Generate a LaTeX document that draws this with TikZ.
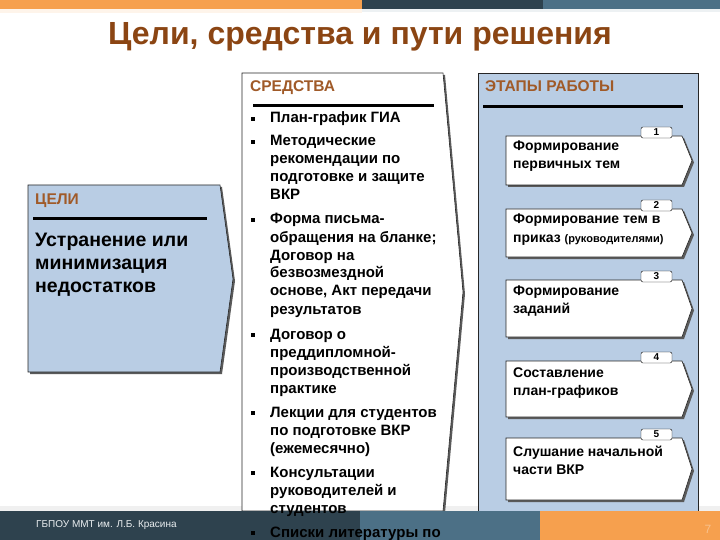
\documentclass[tikz,border=0pt]{standalone}
\usepackage{fontspec}
\setmainfont{Liberation Sans}
\usetikzlibrary{arrows}
\definecolor{bordo}{RGB}{139,69,19}
\definecolor{rubric}{RGB}{160,90,40}
\definecolor{plashka}{RGB}{185,205,228}
\definecolor{oranzh}{RGB}{246,160,78}
\definecolor{grafit}{RGB}{46,66,78}
\definecolor{stal}{RGB}{76,112,134}
\definecolor{ten}{RGB}{90,90,90}
% строки с базовой линией по первой строке
\newcommand{\stroki}[1]{\begin{tabular}[t]{@{}l@{}}#1\end{tabular}}
\tikzset{
  rubrika/.style={anchor=base west, inner sep=0pt, text=rubric, font=\fontsize{15.5}{16}\selectfont\bfseries},
  punkt/.style={anchor=base west, inner sep=0pt, font=\fontsize{15}{18}\selectfont\bfseries},
  etap/.style={anchor=base west, inner sep=0pt, font=\fontsize{14}{18}\selectfont\bfseries},
  nomer/.style={inner sep=0pt, font=\fontsize{10}{10}\selectfont\bfseries},
  cherta/.style={line width=3pt, black},
  kontur/.style={draw=black!85, line width=0.6pt}
}
\begin{document}
\begin{tikzpicture}[x=1pt, y=-1pt]
		\useasboundingbox (0,0) rectangle (720,540);
		% полосы сверху
		\fill[oranzh] (0,0) rectangle (362,9);
		\fill[grafit] (362,0) rectangle (543,9);
		\fill[stal] (543,0) rectangle (720,9);
		\fill[oranzh!12] (0,9) rectangle (362,13);
		\fill[stal!10] (362,9) rectangle (720,12);
		\fill[black!6] (0,506) rectangle (720,511);
		% заголовок
		\node[anchor=base, text=bordo, font=\fontsize{32}{32}\selectfont\bfseries] (title) at (360,45) {Цели, средства и пути решения};
		% цели
		\fill[ten, shift={(2,2)}] (28,185) -- (220,185) -- (233,279) -- (220,372) -- (28,372) -- cycle;
		\filldraw[fill=plashka, kontur] (28,185) -- (220,185) -- (233,279) -- (220,372) -- (28,372) -- cycle;
		\node[rubrika] (goalhead) at (35,205) {ЦЕЛИ};
		\draw[cherta] (33,219) -- (207,219);
		\node[anchor=base west, inner sep=0pt, font=\fontsize{19.5}{23}\selectfont\bfseries] (goals) at (35,247) {\stroki{Устранение или\\минимизация\\недостатков}};
		% средства
		\fill[ten, shift={(2,2)}] (242,73) -- (443,73) -- (463,292) -- (443,511) -- (242,511) -- cycle;
		\filldraw[fill=white, kontur] (242,73) -- (443,73) -- (463,292) -- (443,511) -- (242,511) -- cycle;
		\node[rubrika] (meanshead) at (250,92) {СРЕДСТВА};
		\draw[cherta] (253,106) -- (434,106);
		% этапы
		\filldraw[fill=plashka, kontur] (478,73) rectangle (698,511);
		\node[rubrika] (stageshead) at (485,92) {ЭТАПЫ РАБОТЫ};
		\draw[cherta] (483,107) -- (683,107);
		\foreach \verh/\niz/\n in {136/185/1, 209/257/2, 280/337/3, 361/417/4, 438/500/5} {
			\fill[ten, shift={(2,2)}] (506,\verh) -- (682,\verh) -- (692,{(\verh+\niz)/2}) -- (682,\niz) -- (506,\niz) -- cycle;
			\filldraw[fill=white, kontur] (506,\verh) -- (682,\verh) -- (692,{(\verh+\niz)/2}) -- (682,\niz) -- (506,\niz) -- cycle;
			\draw[fill=white, rounded corners=2pt] (641,\verh-9) rectangle (672,\verh+2);
			\node[nomer] (n\n) at (656.5,\verh-3.5) {\n};
		}
		\node[etap] (s1) at (513,151) {\stroki{Формирование\\первичных тем}};
		\node[etap] (s2) at (513,224) {\stroki{Формирование тем в\\приказ {\fontsize{11}{11}\selectfont(руководителями)}}};
		\node[etap] (s3) at (513,295) {\stroki{Формирование\\заданий}};
		\node[etap] (s4) at (513,377) {\stroki{Составление\\план-графиков}};
		\node[etap] (s5) at (513,456) {\stroki{Слушание начальной\\части ВКР}};
		% полосы снизу
		\fill[grafit] (0,511) rectangle (360,540);
		\fill[stal] (360,511) rectangle (540,540);
		\fill[oranzh] (540,511) rectangle (720,540);
		% список средств
		\foreach \b in {123,146,224,339,417,477,537}
			\fill (250.5,\b-6) rectangle ++(4,4);
		\node[punkt] (m1) at (270,123) {План-график ГИА};
		\node[punkt] (m2) at (270,146) {\stroki{Методические\\рекомендации по\\подготовке и защите\\ВКР}};
		\node[punkt] (m3) at (270,224) {\stroki{Форма письма-\\обращения на бланке;\\Договор на\\безвозмездной\\основе, Акт передачи\\результатов}};
		\node[punkt] (m4) at (270,339) {\stroki{Договор о\\преддипломной-\\производственной\\практике}};
		\node[punkt] (m5) at (270,417) {\stroki{Лекции для студентов\\по подготовке ВКР\\(ежемесячно)}};
		\node[punkt] (m6) at (270,477) {\stroki{Консультации\\руководителей и\\студентов}};
		\node[punkt] (m7) at (270,537) {Списки литературы по};
		% подписи внизу
		\node[anchor=base west, inner sep=0pt, text=white!88!stal, font=\fontsize{10}{10}\selectfont] (footer) at (36,527) {ГБПОУ ММТ им. Л.Б. Красина};
		\node[anchor=base, inner sep=0pt, text=oranzh!65!white, font=\fontsize{12}{12}\selectfont] (page) at (708,533) {7};
\end{tikzpicture}
\end{document}
